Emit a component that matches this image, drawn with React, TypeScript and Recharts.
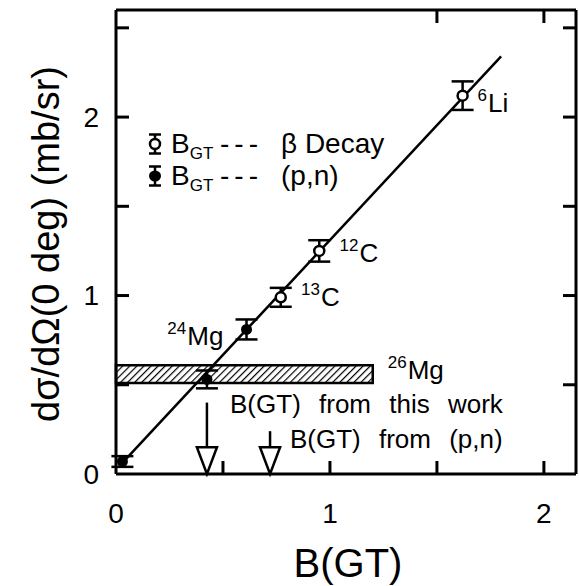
import React from "react";
import {
  ComposedChart,
  Scatter,
  XAxis,
  YAxis,
  ErrorBar,
  ReferenceArea,
  ReferenceLine,
  ReferenceDot,
  Legend,
} from "recharts";

const FONT = "'Liberation Sans', Arial, sans-serif";

// B(GT) from beta decay (open symbols)
const betaPoints = [
  { x: 0.77, y: 0.99, err: 0.053 },
  { x: 0.95, y: 1.25, err: 0.06 },
  { x: 1.62, y: 2.12, err: 0.08 },
];

// B(GT) from (p,n) (filled symbols)
const pnPoints = [
  { x: 0.03, y: 0.07, err: 0.03 },
  { x: 0.61, y: 0.81, err: 0.056 },
  { x: 0.425, y: 0.53, err: 0.05 },
];

const fitLine = [
  { x: 0.02, y: 0.05 },
  { x: 1.8, y: 2.34 },
];

// 26Mg cross section band
const band = { x1: 0, x2: 1.2, y1: 0.51, y2: 0.61 };

// arrows marking B(GT) values
const arrows = [
  { x: 0.425, top: 0.4 },
  { x: 0.72, top: 0.24 },
];
const headTop = 0.15;
const headHalf = 0.047;

const isotopes = [
  { x: 1.69, y: 2.03, sup: "6", name: "Li" },
  { x: 1.045, y: 1.19, sup: "12", name: "C" },
  { x: 0.865, y: 0.94, sup: "13", name: "C" },
  { x: 0.24, y: 0.725, sup: "24", name: "Mg" },
  { x: 1.27, y: 0.53, sup: "26", name: "Mg" },
];

const notes = [
  { x: 0.533, y: 0.343, text: "B(GT) from this work" },
  { x: 0.813, y: 0.146, text: "B(GT) from (p,n)" },
];

const xTicks = [0, 0.5, 1, 1.5, 2];
const yTicks = [0, 0.5, 1, 1.5, 2, 2.5];
const topTicks = [1.5, 2];
const rightTicks = [0.5, 1, 1.5, 2, 2.5];

const TICK = 13;

const BottomTick = (p: any) => {
  const v = p.payload.value;
  return (
    <g>
      {v > 0 && <line x1={p.x} y1={p.y} x2={p.x} y2={p.y - TICK} stroke="#000" strokeWidth={3} />}
      {Number.isInteger(v) && (
        <text x={p.x} y={p.y + 49} textAnchor="middle" fontSize={28} fontFamily={FONT}>
          {v}
        </text>
      )}
    </g>
  );
};

const LeftTick = (p: any) => {
  const v = p.payload.value;
  return (
    <g>
      {v > 0 && <line x1={p.x} y1={p.y} x2={p.x + TICK} y2={p.y} stroke="#000" strokeWidth={3} />}
      {Number.isInteger(v) && (
        <text x={p.x - 17} y={p.y} dy="0.35em" textAnchor="end" fontSize={28} fontFamily={FONT}>
          {v}
        </text>
      )}
    </g>
  );
};

const TopTick = (p: any) => (
  <line x1={p.x} y1={p.y} x2={p.x} y2={p.y + TICK} stroke="#000" strokeWidth={3} />
);

const RightTick = (p: any) => (
  <line x1={p.x} y1={p.y} x2={p.x - TICK} y2={p.y} stroke="#000" strokeWidth={3} />
);

const OpenDot = (p: any) => (
  <circle cx={p.cx} cy={p.cy} r={5} fill="#fff" stroke="#000" strokeWidth={2.5} />
);
const FilledDot = (p: any) => <circle cx={p.cx} cy={p.cy} r={5.5} fill="#000" />;
const NoDot = () => <g />;

const LegendIcon = ({ open }: { open: boolean }) => (
  <svg width={16} height={24} style={{ display: "block" }}>
    <line x1={8} y1={3} x2={8} y2={21} stroke="#000" strokeWidth={2.5} />
    <line x1={2} y1={2.5} x2={14} y2={2.5} stroke="#000" strokeWidth={2.5} />
    <line x1={2} y1={21.5} x2={14} y2={21.5} stroke="#000" strokeWidth={2.5} />
    {open ? (
      <circle cx={8} cy={12} r={5} fill="#fff" stroke="#000" strokeWidth={2.5} />
    ) : (
      <ellipse cx={8} cy={12} rx={6} ry={5.5} fill="#000" />
    )}
  </svg>
);

const legendRows = [
  { open: true, text: "β Decay" },
  { open: false, text: "(p,n)" },
];

const LegendBox = () => (
  <div style={{ fontFamily: FONT, fontSize: 28, lineHeight: "32px", color: "#000" }}>
    {legendRows.map((r) => (
      <div key={r.text} style={{ whiteSpace: "nowrap", position: "relative", height: 32 }}>
        <span style={{ position: "absolute", left: 0, top: 4 }}>
          <LegendIcon open={r.open} />
        </span>
        <span style={{ position: "absolute", left: 24 }}>
          B<span style={{ fontSize: 17, position: "relative", top: 6 }}>GT</span>
        </span>
        <span style={{ position: "absolute", left: 73, letterSpacing: 5 }}>---</span>
        <span style={{ position: "absolute", left: 134 }}>{r.text}</span>
      </div>
    ))}
  </div>
);

export default function App() {
  return (
    <div style={{ position: "absolute", left: 0, top: 0, background: "#fff" }}>
      <ComposedChart
        width={579}
        height={586}
        margin={{ top: 9, right: 2, bottom: 0, left: 0 }}
      >
        <defs>
          <pattern id="hatch" width={5} height={5} patternUnits="userSpaceOnUse" patternTransform="rotate(45)">
            <line x1={0} y1={0} x2={0} y2={5} stroke="#000" strokeWidth={2.4} />
          </pattern>
        </defs>
        <XAxis
          xAxisId="b"
          type="number"
          dataKey="x"
          domain={[0, 2.15]}
          ticks={xTicks}
          interval={0}
          height={112}
          tickSize={0}
          tickMargin={0}
          tick={<BottomTick />}
          axisLine={{ stroke: "#000", strokeWidth: 3 }}
          allowDataOverflow
          label={{
            content: (props: any) => {
              const vb = props.viewBox;
              return (
                <text x={vb.x + vb.width / 2 + 2} y={vb.y + 103} textAnchor="middle" fontSize={40} fontFamily={FONT}>
                  B(GT)
                </text>
              );
            },
          }}
        />
        <XAxis
          xAxisId="t"
          orientation="top"
          type="number"
          dataKey="x"
          domain={[0, 2.15]}
          ticks={topTicks}
          interval={0}
          height={1}
          tickSize={0}
          tickMargin={0}
          tick={<TopTick />}
          axisLine={{ stroke: "#000", strokeWidth: 3 }}
          allowDataOverflow
        />
        <YAxis
          yAxisId="l"
          type="number"
          dataKey="y"
          domain={[0, 2.6]}
          ticks={yTicks}
          interval={0}
          width={116}
          tickSize={0}
          tickMargin={0}
          tick={<LeftTick />}
          axisLine={{ stroke: "#000", strokeWidth: 3 }}
          allowDataOverflow
          label={{
            content: (props: any) => {
              const vb = props.viewBox;
              const cx = vb.x + 46;
              const cy = vb.y + vb.height / 2 + 2;
              return (
                <text
                  x={cx}
                  y={cy}
                  dy="0.35em"
                  textAnchor="middle"
                  transform={`rotate(-90, ${cx}, ${cy})`}
                  fontSize={38}
                  fontFamily={FONT}
                >
                  dσ/dΩ(0 deg) (mb/sr)
                </text>
              );
            },
          }}
        />
        <YAxis
          yAxisId="r"
          orientation="right"
          type="number"
          dataKey="y"
          domain={[0, 2.6]}
          ticks={rightTicks}
          interval={0}
          width={1}
          tickSize={0}
          tickMargin={0}
          tick={<RightTick />}
          axisLine={{ stroke: "#000", strokeWidth: 3 }}
          allowDataOverflow
        />

        <ReferenceArea
          xAxisId="b"
          yAxisId="l"
          x1={band.x1}
          x2={band.x2}
          y1={band.y1}
          y2={band.y2}
          fill="url(#hatch)"
          fillOpacity={1}
          stroke="#000"
          strokeWidth={2.5}
        />

        {arrows.map((a) => (
          <ReferenceLine
            key={"s" + a.x}
            xAxisId="b"
            yAxisId="l"
            segment={[
              { x: a.x, y: headTop },
              { x: a.x, y: a.top },
            ]}
            stroke="#000"
            strokeWidth={2.5}
          />
        ))}
        {arrows.map((a) => (
          <ReferenceArea
            key={"h" + a.x}
            xAxisId="b"
            yAxisId="l"
            x1={a.x - headHalf}
            x2={a.x + headHalf}
            y1={0}
            y2={headTop}
            shape={(p: any) => (
              <polygon
                points={`${p.x},${p.y} ${p.x + p.width},${p.y} ${p.x + p.width / 2},${p.y + p.height}`}
                fill="#fff"
                stroke="#000"
                strokeWidth={2.5}
                strokeLinejoin="miter"
              />
            )}
          />
        ))}

        <Scatter
          xAxisId="b"
          yAxisId="l"
          data={fitLine}
          line={{ stroke: "#000", strokeWidth: 2.5 }}
          shape={<NoDot />}
          legendType="none"
          isAnimationActive={false}
        />
        <Scatter
          xAxisId="b"
          yAxisId="l"
          data={betaPoints}
          shape={<OpenDot />}
          legendType="none"
          isAnimationActive={false}
        >
          <ErrorBar dataKey="err" direction="y" width={11} stroke="#000" strokeWidth={2.5} isAnimationActive={false} />
        </Scatter>
        <Scatter
          xAxisId="b"
          yAxisId="l"
          data={pnPoints}
          shape={<FilledDot />}
          legendType="none"
          isAnimationActive={false}
        >
          <ErrorBar dataKey="err" direction="y" width={11} stroke="#000" strokeWidth={2.5} isAnimationActive={false} />
        </Scatter>

        {isotopes.map((t) => (
          <ReferenceDot
            key={t.sup + t.name}
            xAxisId="b"
            yAxisId="l"
            x={t.x}
            y={t.y}
            r={0}
            shape={(p: any) => (
              <text x={p.cx} y={p.cy} fontSize={26} fontFamily={FONT}>
                <tspan fontSize={17} dy={-11}>
                  {t.sup}
                </tspan>
                <tspan dy={11} dx={1}>
                  {t.name}
                </tspan>
              </text>
            )}
          />
        ))}
        {notes.map((n) => (
          <ReferenceDot
            key={n.text}
            xAxisId="b"
            yAxisId="l"
            x={n.x}
            y={n.y}
            r={0}
            shape={(p: any) => (
              <text x={p.cx} y={p.cy} fontSize={26} fontFamily={FONT} wordSpacing={11}>
                {n.text}
              </text>
            )}
          />
        ))}

        <Legend
          layout="horizontal"
          verticalAlign="middle"
          align="center"
          content={<LegendBox />}
          wrapperStyle={{ left: 147, top: 128, width: 300, height: 70 }}
        />
      </ComposedChart>
    </div>
  );
}
